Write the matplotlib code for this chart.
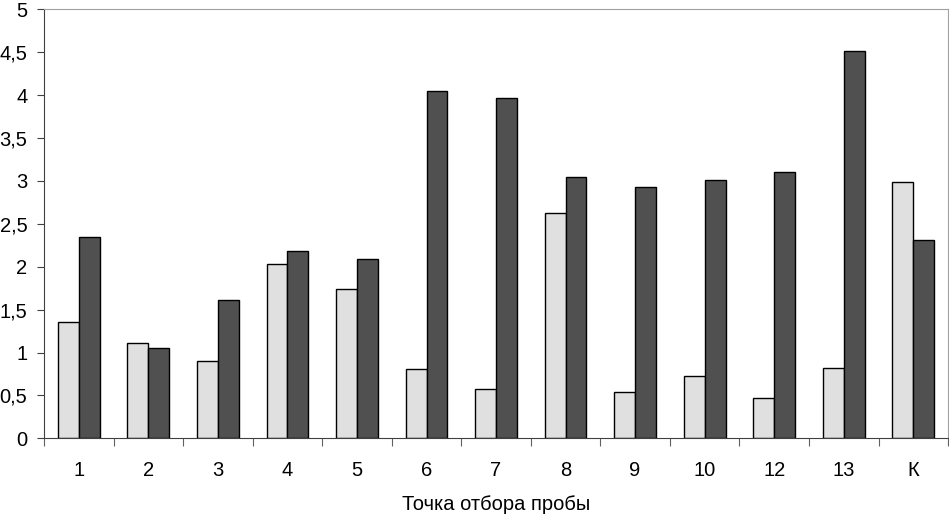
import matplotlib
matplotlib.use('Agg')
import matplotlib.pyplot as plt
import numpy as np
from matplotlib.ticker import FuncFormatter

plt.rcParams['font.family'] = ['Liberation Sans', 'DejaVu Sans']

points = ['1', '2', '3', '4', '5', '6', '7', '8', '9', '10', '12', '13', 'К']
light = [1.35, 1.11, 0.90, 2.03, 1.74, 0.81, 0.58, 2.63, 0.54, 0.73, 0.47, 0.82, 2.99]
dark = [2.35, 1.05, 1.61, 2.18, 2.09, 4.05, 3.97, 3.04, 2.93, 3.01, 3.10, 4.51, 2.31]

x = np.arange(len(points))
w = 0.3

fig = plt.figure(figsize=(9.49, 5.17), dpi=100)
ax = fig.add_axes([0.0464, 0.1522, 0.9526, 0.8298])

ax.bar(x - w/2, light, w, color='#e0e0e0', edgecolor='black', linewidth=1)
ax.bar(x + w/2, dark, w, color='#505050', edgecolor='black', linewidth=1)

ax.set_xlim(-0.5, len(points) - 0.5)
ax.set_ylim(0, 5)
ax.set_yticks(np.arange(0, 5.01, 0.5))
ax.yaxis.set_major_formatter(FuncFormatter(lambda v, p: ('%g' % v).replace('.', ',')))
ax.set_xticks(x)
ax.set_xticklabels(points)
ax.set_xticks(np.arange(-0.5, len(points), 1), minor=True)

ax.tick_params(axis='y', direction='out', length=5, width=0.8, pad=7, labelsize=14.5, color='#404040')
ax.tick_params(axis='x', which='major', length=0, pad=16, labelsize=14.5)
ax.tick_params(axis='x', which='minor', direction='out', length=6, width=0.8, color='#606060')

for s in ['left', 'bottom']:
    ax.spines[s].set_color('#404040')
for s in ['top', 'right']:
    ax.spines[s].set_color('#a0a0a0')

ax.set_xlabel('Точка отбора пробы', fontsize=14.5, labelpad=11)

fig.savefig('out.png', dpi=100)
